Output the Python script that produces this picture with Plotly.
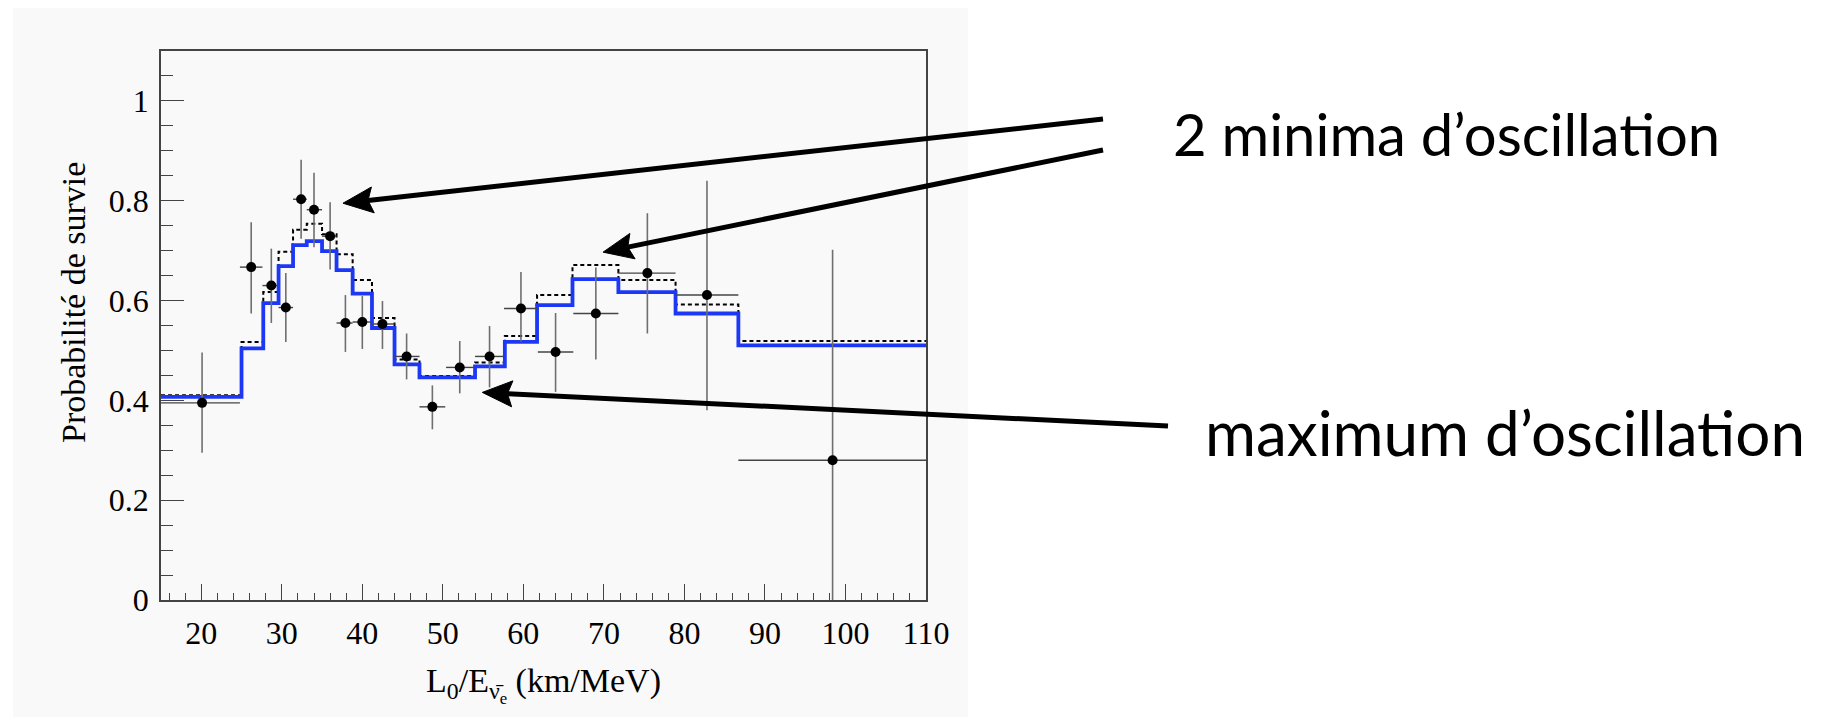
import math
import plotly.graph_objects as go

# ---- Histogram predictions (survival probability per L0/E bin) ----
bin_edges = [15, 25, 27.7, 29.6, 31.4, 33.1, 35.0, 36.8, 38.8, 41.2, 44.0,
             47.1, 54.0, 57.7, 61.7, 66.1, 71.8, 78.9, 86.7, 110]
best_fit = [0.407, 0.504, 0.595, 0.669, 0.711, 0.719, 0.699, 0.661, 0.614,
            0.545, 0.472, 0.446, 0.468, 0.517, 0.591, 0.643, 0.617, 0.574,
            0.510]
alt_fit = [0.410, 0.517, 0.617, 0.698, 0.742, 0.754, 0.733, 0.693, 0.641,
           0.565, 0.482, 0.449, 0.476, 0.529, 0.611, 0.671, 0.641, 0.592,
           0.519]

# ---- Measured points with their bin widths and uncertainties ----
data_x = [20.1, 26.2, 28.7, 30.5, 32.4, 34.0, 36.0, 37.9, 40.0, 42.5,
          45.5, 48.7, 52.1, 55.8, 59.7, 64.0, 69.0, 75.4, 82.8, 98.4]
data_y = [0.395, 0.667, 0.630, 0.586, 0.803, 0.782, 0.729, 0.555, 0.557,
          0.553, 0.488, 0.387, 0.466, 0.488, 0.584, 0.497, 0.574, 0.655,
          0.611, 0.280]
data_y_hi = [0.496, 0.757, 0.704, 0.655, 0.882, 0.856, 0.797, 0.611, 0.609,
             0.599, 0.534, 0.430, 0.519, 0.549, 0.657, 0.575, 0.666, 0.775,
             0.840, 0.702]
data_y_lo = [0.295, 0.574, 0.555, 0.517, 0.724, 0.707, 0.662, 0.497, 0.503,
             0.503, 0.442, 0.342, 0.414, 0.426, 0.518, 0.417, 0.482, 0.534,
             0.380, 0.0]
data_x_lo = [15.0, 24.8, 27.6, 29.6, 31.4, 33.1, 35.0, 36.8, 38.8, 41.2,
             44.0, 47.1, 50.4, 54.0, 57.6, 61.8, 66.2, 71.7, 78.9, 86.7]
data_x_hi = [24.8, 27.6, 29.6, 31.4, 33.1, 35.0, 36.8, 38.8, 41.2, 44.0,
             47.1, 50.3, 53.9, 57.6, 61.7, 66.2, 71.8, 78.9, 86.7, 110.0]

# ---- Callout labels and where their arrows point (data coordinates) ----
minima_label = "2 minima d’oscillation"
maximum_label = "maximum d’oscillation"
minima_targets = [(37.6, 0.795), (69.9, 0.697)]
maximum_target = (54.9, 0.416)

# ---- Page geometry (pixels) ----
W, H = 1823, 717
PL, PR, PT, PB = 161, 926, 51, 600
X_RANGE = (15, 110)
Y_RANGE = (0, 1.1)


def paper_x(px):
    return (px - PL) / (PR - PL)


def paper_y(py):
    return (PB - py) / (PB - PT)


def data_to_px(x, y):
    px = PL + (x - X_RANGE[0]) / (X_RANGE[1] - X_RANGE[0]) * (PR - PL)
    py = PB - (y - Y_RANGE[0]) / (Y_RANGE[1] - Y_RANGE[0]) * (PB - PT)
    return px, py


def arrow_shapes(tail, tip, width=5, head_len=30, head_half=13):
    """Thick black arrow drawn as a line plus a notched triangular head."""
    (sx, sy), (tx, ty) = tail, tip
    d = math.hypot(tx - sx, ty - sy)
    ux, uy = (tx - sx) / d, (ty - sy) / d
    nx, ny = -uy, ux
    bx, by = tx - head_len * ux, ty - head_len * uy
    mx, my = tx - 0.84 * head_len * ux, ty - 0.84 * head_len * uy
    pts = [(tx, ty), (bx + head_half * nx, by + head_half * ny),
           (mx, my), (bx - head_half * nx, by - head_half * ny)]
    path = "M " + " L ".join(f"{paper_x(px):.5f},{paper_y(py):.5f}"
                             for px, py in pts) + " Z"
    return [
        dict(type="line", xref="paper", yref="paper",
             x0=paper_x(sx), y0=paper_y(sy), x1=paper_x(mx), y1=paper_y(my),
             line=dict(color="black", width=width), layer="above"),
        dict(type="path", xref="paper", yref="paper", path=path,
             fillcolor="black", line=dict(color="black", width=1),
             layer="above"),
    ]


SERIF = "Liberation Serif, Times New Roman, serif"

fig = go.Figure()

fig.add_trace(go.Scatter(
    x=bin_edges, y=alt_fit + [alt_fit[-1]], mode="lines", line_shape="hv",
    line=dict(color="black", width=2, dash="4px,3px"),
    hoverinfo="skip", showlegend=False))

fig.add_trace(go.Scatter(
    x=bin_edges, y=best_fit + [best_fit[-1]], mode="lines", line_shape="hv",
    line=dict(color="#1c38f5", width=3.8),
    hoverinfo="skip", showlegend=False))

fig.add_trace(go.Scatter(
    x=data_x, y=data_y, mode="markers",
    marker=dict(color="black", size=10),
    error_y=dict(type="data", symmetric=False,
                 array=[h - v for h, v in zip(data_y_hi, data_y)],
                 arrayminus=[v - l for v, l in zip(data_y, data_y_lo)],
                 color="#6f6f6f", thickness=1.6, width=0),
    error_x=dict(type="data", symmetric=False,
                 array=[h - v for h, v in zip(data_x_hi, data_x)],
                 arrayminus=[v - l for v, l in zip(data_x, data_x_lo)],
                 color="#444444", thickness=1.4, width=0),
    showlegend=False))

# Background panel behind the whole chart
shapes = [dict(type="rect", xref="paper", yref="paper",
               x0=paper_x(13), x1=paper_x(968),
               y0=paper_y(717), y1=paper_y(8),
               fillcolor="#f9f9f9", line=dict(width=0), layer="below")]

# Arrows from the callout labels to the features they describe
arrow_tails = [(1103, 119), (1103, 150), (1168, 426)]
for target, tail in zip(minima_targets + [maximum_target], arrow_tails):
    shapes += arrow_shapes(tail, data_to_px(*target))

annotations = [
    dict(x=paper_x(1171), y=paper_y(133), xref="paper", yref="paper",
         text=minima_label, showarrow=False, xanchor="left",
         yanchor="middle", font=dict(family="Lato", size=58, color="black")),
    dict(x=paper_x(1203), y=paper_y(432), xref="paper", yref="paper",
         text=maximum_label, showarrow=False, xanchor="left",
         yanchor="middle", font=dict(family="Lato", size=62, color="black")),
    # y-axis title, placed slightly above the plot centre
    dict(x=paper_x(73), y=paper_y(303), xref="paper", yref="paper",
         text="Probabilité de survie", showarrow=False, textangle=-90,
         xanchor="center", yanchor="middle",
         font=dict(family=SERIF, size=34, color="black")),
]

fig.update_layout(
    width=W, height=H, autosize=False,
    margin=dict(l=PL, r=W - PR, t=PT, b=H - PB, pad=0),
    paper_bgcolor="white", plot_bgcolor="rgba(0,0,0,0)",
    annotations=annotations, shapes=shapes,
    font=dict(family=SERIF, color="black"),
)

fig.update_xaxes(
    range=list(X_RANGE), tickmode="linear", tick0=20, dtick=10,
    ticks="inside", ticklen=16, tickwidth=1.3, tickcolor="#444",
    minor=dict(dtick=2, tick0=20, ticks="inside", ticklen=7,
               tickwidth=1.2, tickcolor="#444"),
    showline=True, mirror=True, linecolor="#444", linewidth=1.5,
    showgrid=False, zeroline=False,
    tickfont=dict(family=SERIF, size=32, color="black"),
    ticklabelstandoff=4,
    title=dict(text="L<sub>0</sub>/E<sub>ν̄<sub>e</sub></sub> (km/MeV)",
               font=dict(family=SERIF, size=34, color="black"), standoff=18),
)

fig.update_yaxes(
    range=list(Y_RANGE), tickmode="linear", tick0=0, dtick=0.2,
    ticks="inside", ticklen=23, tickwidth=1.3, tickcolor="#444",
    minor=dict(dtick=0.05, tick0=0, ticks="inside", ticklen=12,
               tickwidth=1.2, tickcolor="#444"),
    showline=True, mirror=True, linecolor="#444", linewidth=1.5,
    showgrid=False, zeroline=False,
    tickfont=dict(family=SERIF, size=32, color="black"),
    ticklabelstandoff=4,
)

fig.write_html("out.html")
